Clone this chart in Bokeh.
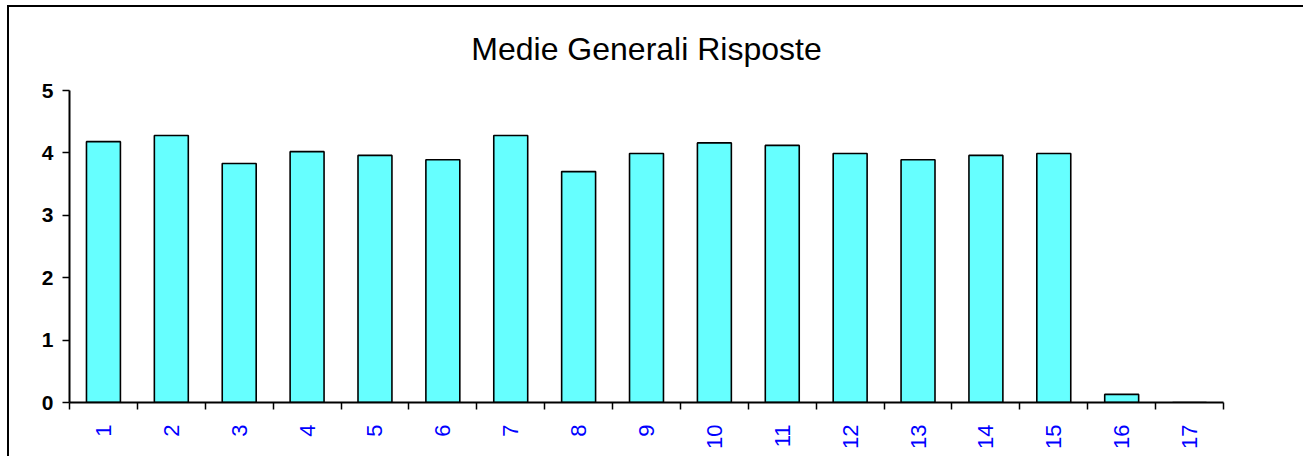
from bokeh.plotting import figure
from bokeh.models import ColumnDataSource, Range1d, FixedTicker, InlineStyleSheet
from bokeh.embed import file_html
from bokeh.resources import INLINE

# Mean score per question
questions = ["1", "2", "3", "4", "5", "6", "7", "8", "9", "10",
             "11", "12", "13", "14", "15", "16", "17"]
means = [4.18, 4.28, 3.83, 4.02, 3.96, 3.89, 4.28, 3.70, 3.99, 4.16,
         4.12, 3.99, 3.89, 3.96, 3.99, 0.13, 0.0]
y_ticks = [0, 1, 2, 3, 4, 5]

xpos = list(range(1, len(questions) + 1))
source = ColumnDataSource(data=dict(x=xpos, top=means, q=questions))

p = figure(width=1303, height=456, output_backend="svg", toolbar_location=None,
           x_range=Range1d(0.5, len(questions) + 0.5), y_range=Range1d(0, 5),
           min_border_left=69, min_border_right=80, min_border_top=90,
           min_border_bottom=54)
p.background_fill_color = "white"
p.border_fill_color = "white"
p.outline_line_color = None
p.grid.visible = False

# Title above the plot area
p.title.text = "Medie Generali Risposte"
p.title.align = "center"
p.title.offset = 8
p.title.standoff = 48
p.title.text_font = "Liberation Sans"
p.title.text_font_size = "32px"
p.title.text_font_style = "normal"
p.title.text_color = "black"

p.vbar(x="x", top="top", width=0.5, source=source,
       fill_color="#66FFFF", line_color="black", line_width=1.6)

# x axis: labels at category centres, small ticks between categories
xa = p.xaxis[0]
xa.ticker = FixedTicker(ticks=xpos, minor_ticks=[i + 0.5 for i in range(0, len(questions) + 1)])
xa.major_label_overrides = {i: q for i, q in zip(xpos, questions)}
xa.major_label_orientation = 3.14159265 / 2
xa.major_label_text_color = "#0000FF"
xa.major_label_text_font = "Liberation Sans"
xa.major_label_text_font_size = "22px"
xa.major_label_standoff = 15
xa.major_tick_line_color = None
xa.major_tick_out = 0
xa.major_tick_in = 0
xa.minor_tick_out = 7
xa.minor_tick_in = 0
xa.minor_tick_line_color = "black"
xa.minor_tick_line_width = 1.5
xa.axis_line_color = "black"
xa.axis_line_width = 2

ya = p.yaxis[0]
ya.ticker = FixedTicker(ticks=y_ticks, minor_ticks=[])
ya.major_label_text_font = "Liberation Sans"
ya.major_label_text_font_style = "bold"
ya.major_label_text_font_size = "21px"
ya.major_label_text_color = "black"
ya.major_label_standoff = 9
ya.major_tick_out = 7
ya.major_tick_in = 0
ya.major_tick_line_color = "black"
ya.major_tick_line_width = 1.5
ya.axis_line_color = "black"
ya.axis_line_width = 2

# Chart area border (left and top edges of the chart box)
p.stylesheets = [InlineStyleSheet(css="""
:host::after {
  content: "";
  position: absolute;
  left: 7px; top: 5px; right: 0; bottom: 0;
  border-left: 2px solid black;
  border-top: 2px solid black;
  pointer-events: none;
}
""")]

open("out.html", "w").write(file_html(p, INLINE))
